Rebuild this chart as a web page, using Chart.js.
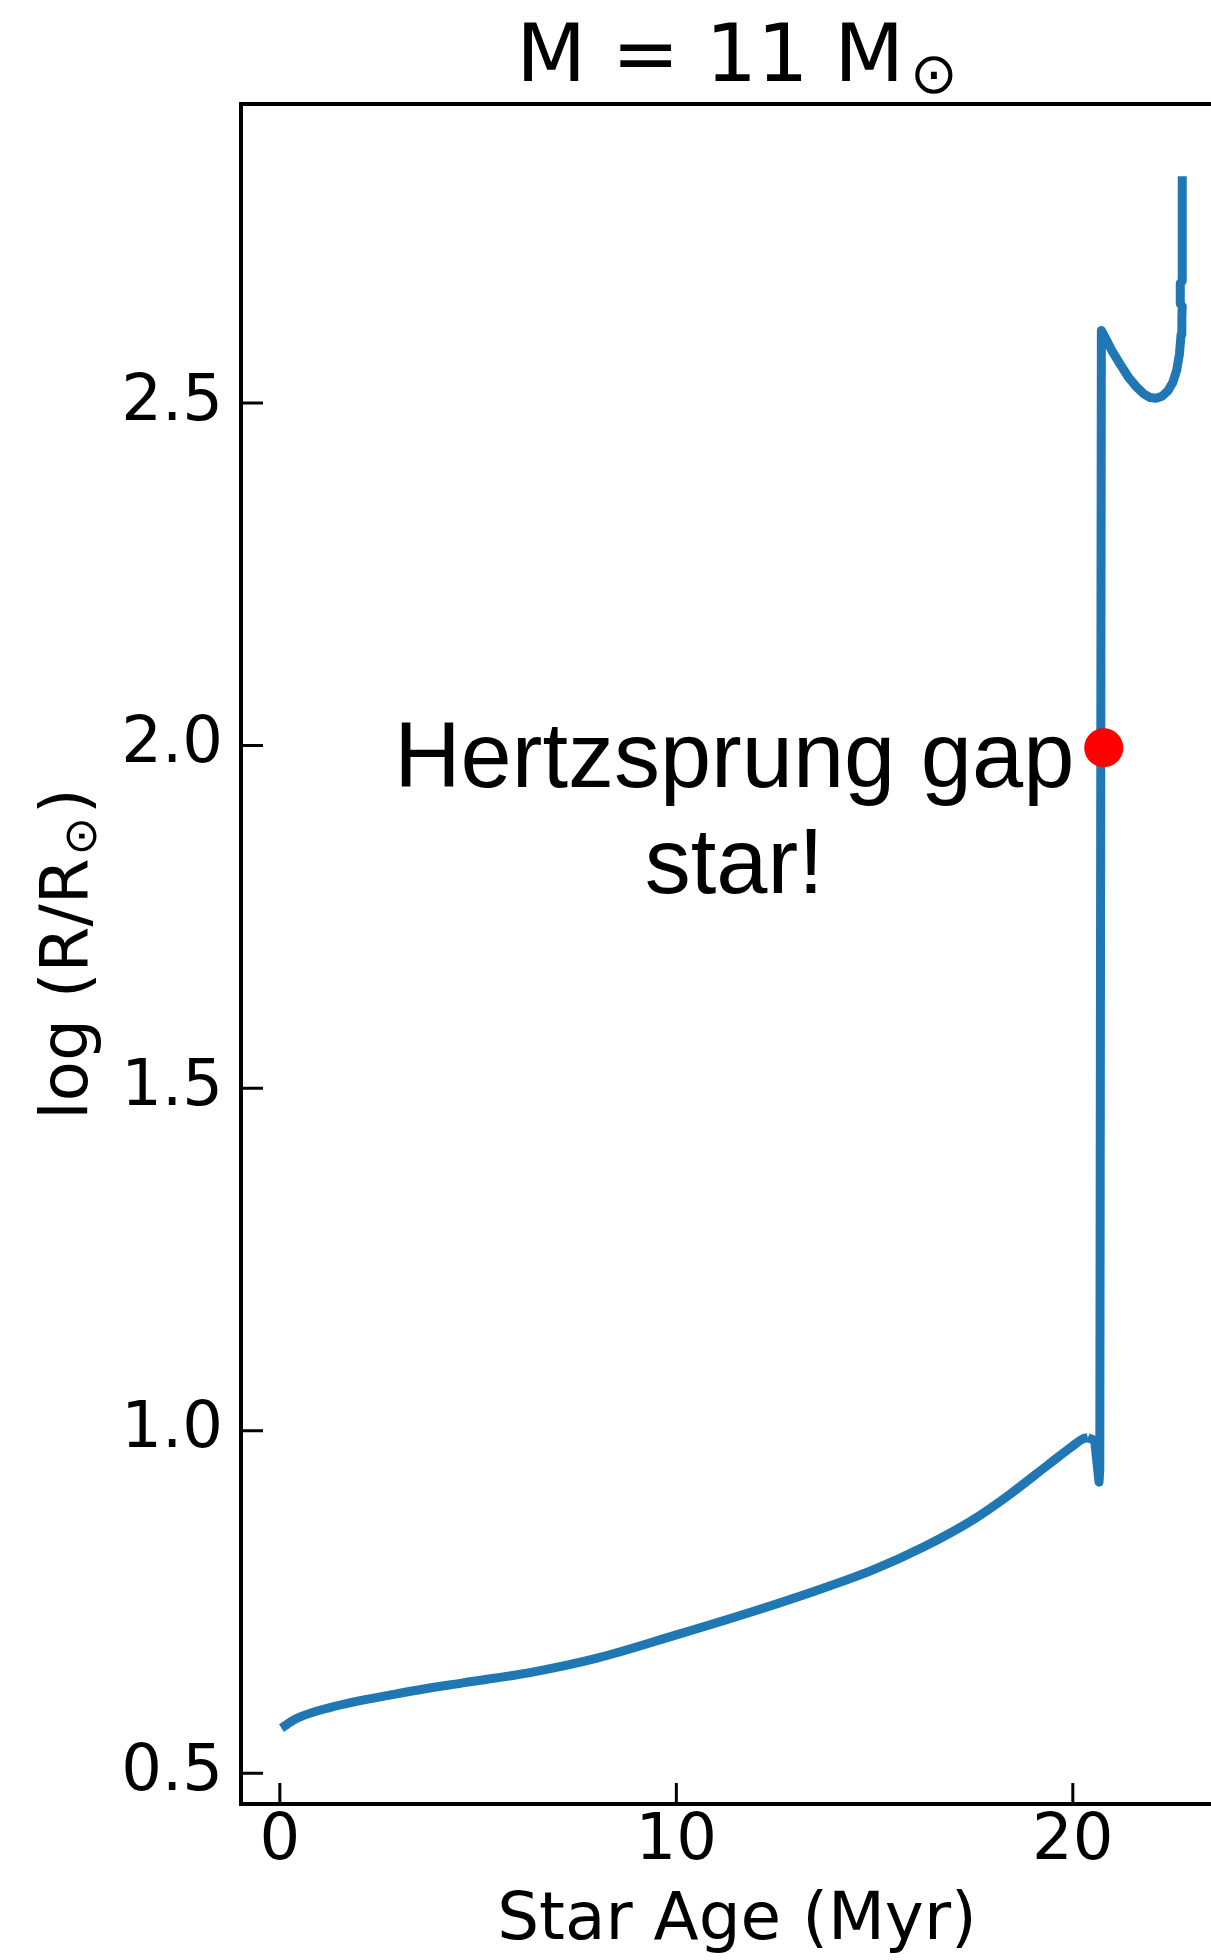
<!DOCTYPE html>
<html lang="en">
  <head>
    <meta charset="UTF-8" />
    <title>M = 11 Msun</title>
    <script src="https://cdn.jsdelivr.net/npm/chart.js"></script>
    <style>
      html, body { margin: 0; padding: 0; background: #fff; overflow: hidden; }
      #wrap { width: 1300px; height: 1960px; }
    </style>
  </head>
  <body>
    <div id="wrap"><canvas id="myChart" width="1300" height="1960"></canvas></div>

    <script>
      // DATA

      // main sequence: star age (Myr) -> log(R/Rsun)
      const msAge = [
        0.04, 0.42, 1.26, 2.94, 4.62, 6.31, 8.0, 10.0, 11.81, 13.39, 14.96,
        16.22, 17.48, 18.43, 19.37, 20.0, 20.25, 20.38
      ];
      const msLogR = [
        0.566, 0.580, 0.596, 0.616, 0.632, 0.647, 0.668, 0.702, 0.734, 0.764, 0.797,
        0.830, 0.870, 0.908, 0.950, 0.978, 0.988, 0.990
      ];

      // after the main sequence: hook, crossing of the gap, blue loop, red giant
      const postAge = [
        20.38, 20.55, 20.66, 20.68, 20.72, 20.85, 21.0, 21.2, 21.4, 21.6, 21.8,
        21.95, 22.1, 22.25, 22.4, 22.52, 22.62, 22.69, 22.73, 22.75, 22.76,
        22.71, 22.71, 22.76, 22.76
      ];
      const postLogR = [
        0.990, 0.986, 0.925, 0.942, 2.606, 2.592, 2.575, 2.556, 2.538, 2.524, 2.513,
        2.508, 2.507, 2.510, 2.518, 2.530, 2.548, 2.572, 2.600, 2.625, 2.641,
        2.645, 2.675, 2.678, 2.831
      ];

      // the highlighted star
      const gapStarAge = [20.78];
      const gapStarLogR = [1.997];

      const xTicks = [0, 10, 20];
      const yTicks = [0.5, 1.0, 1.5, 2.0, 2.5];

      const noteLines = ['Hertzsprung gap', 'star!'];
      const notePos = { x: 11.46, y: 1.862 };

      // TEXT WITH SUBSCRIPT (title + y label)

      function drawParts(ctx, parts, x, y) {
        let w = 0;
        parts.forEach(p => {
          ctx.font = p[1] + 'px "DejaVu Sans"';
          w += ctx.measureText(p[0]).width + (p[3] || 0);
        });
        let cx = x - w / 2;
        ctx.textAlign = 'left';
        ctx.textBaseline = 'alphabetic';
        parts.forEach(p => {
          ctx.font = p[1] + 'px "DejaVu Sans"';
          ctx.fillText(p[0], cx, y + p[2]);
          cx += ctx.measureText(p[0]).width + (p[3] || 0);
        });
      }

      const decorations = {
        id: 'decorations',
        afterDraw(chart) {
          const { ctx, chartArea: a, scales: { x, y } } = chart;
          ctx.save();
          ctx.strokeStyle = '#000';
          ctx.fillStyle = '#000';

          // inward ticks
          ctx.lineWidth = 3;
          ctx.beginPath();
          yTicks.forEach(v => {
            const p = y.getPixelForValue(v);
            ctx.moveTo(a.left, p);
            ctx.lineTo(a.left + 22, p);
          });
          xTicks.forEach(v => {
            const p = x.getPixelForValue(v);
            ctx.moveTo(p, a.bottom);
            ctx.lineTo(p, a.bottom - 21);
          });
          ctx.stroke();

          // frame
          ctx.lineWidth = 4;
          ctx.strokeRect(a.left, a.top, a.right - a.left, a.bottom - a.top);

          // title
          drawParts(ctx, [['M = 11 M', 81, 0, 6], ['\u2299', 57, 12]], (a.left + a.right) / 2, 81);

          // y label
          ctx.save();
          ctx.translate(87, (a.top + a.bottom) / 2);
          ctx.rotate(-Math.PI / 2);
          drawParts(ctx, [['log (R/R', 66, 0, 3], ['\u2299', 46, 9, 3], [')', 66, 0]], 0, 0);
          ctx.restore();

          // annotation
          ctx.font = '92px "Liberation Sans", Arial, sans-serif';
          ctx.textAlign = 'center';
          ctx.textBaseline = 'alphabetic';
          const nx = x.getPixelForValue(notePos.x);
          const ny = y.getPixelForValue(notePos.y);
          ctx.fillText(noteLines[0], nx, ny - 53);
          ctx.fillText(noteLines[1], nx, ny + 53);

          ctx.restore();
        }
      };

      const tickFont = { family: 'DejaVu Sans', size: 64 };
      const lineStyle = {
        showLine: true,
        borderColor: '#1f77b4',
        borderWidth: 9,
        borderJoinStyle: 'round',
        pointRadius: 0,
        order: 1
      };

      const config = {
        type: 'scatter',
        data: {
          datasets: [
            {
              label: 'gap star',
              data: gapStarAge.map((v, i) => ({ x: v, y: gapStarLogR[i] })),
              pointRadius: 19.5,
              pointBackgroundColor: '#ff0000',
              pointBorderWidth: 0,
              showLine: false,
              order: 0
            },
            Object.assign({
              label: 'main sequence',
              data: msAge.map((v, i) => ({ x: v, y: msLogR[i] })),
              cubicInterpolationMode: 'monotone'
            }, lineStyle),
            Object.assign({
              label: 'post main sequence',
              data: postAge.map((v, i) => ({ x: v, y: postLogR[i] })),
              tension: 0
            }, lineStyle)
          ]
        },
        options: {
          responsive: false,
          animation: false,
          layout: { padding: { left: 0, top: 104, right: 67, bottom: 0 } },
          plugins: {
            legend: { display: false },
            title: { display: false },
            tooltip: { enabled: false }
          },
          scales: {
            x: {
              type: 'linear',
              min: -0.98,
              max: 24.04,
              grid: { display: false, drawTicks: false },
              border: { display: false },
              ticks: {
                font: tickFont,
                color: '#000',
                padding: 0,
                maxRotation: 0,
                callback: v => String(v)
              },
              afterBuildTicks: s => { s.ticks = xTicks.map(v => ({ value: v })); },
              afterFit: s => { s.height = 156; },
              title: {
                display: true,
                text: 'Star Age (Myr)',
                color: '#000',
                font: { family: 'DejaVu Sans', size: 66, lineHeight: 1.15 },
                padding: { top: 0, bottom: 0 }
              }
            },
            y: {
              type: 'linear',
              min: 0.4552,
              max: 2.9365,
              grid: { display: false, drawTicks: false },
              border: { display: false },
              ticks: {
                font: tickFont,
                color: '#000',
                padding: 18,
                callback: v => Number(v).toFixed(1)
              },
              afterBuildTicks: s => { s.ticks = yTicks.map(v => ({ value: v })); },
              afterFit: s => { s.width = 241; }
            }
          }
        },
        plugins: [decorations]
      };

      let myChart = new Chart(document.getElementById('myChart'), config);
    </script>
  </body>
</html>
